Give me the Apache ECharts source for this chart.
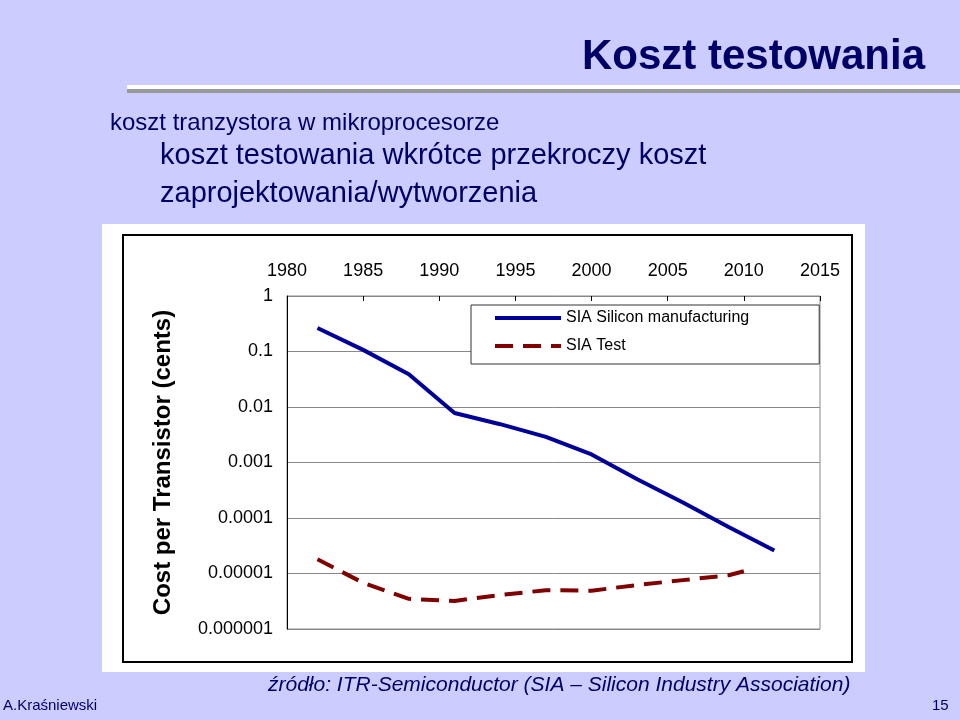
<!DOCTYPE html>
<html>
<head>
<meta charset="utf-8">
<script src="https://cdn.jsdelivr.net/npm/echarts@6/dist/echarts.min.js"></script>
<style>
html,body{margin:0;padding:0;background:#ccccff}
#main{width:960px;height:720px}
</style>
</head>
<body>
<div id="main"></div>
<script>
// dane
var years_mfg = [1982, 1985, 1988, 1991, 1994, 1997, 2000, 2003, 2006, 2009, 2012];
var cost_mfg = [0.265, 0.107, 0.039, 0.0078, 0.0049, 0.0029, 0.0014, 0.0005, 0.00019, 0.000069, 0.000026];
var years_test = [1982, 1985, 1988, 1991, 1994, 1997, 2000, 2003, 2006, 2009, 2010];
var cost_test = [0.000018, 0.0000068, 0.0000035, 0.0000032, 0.0000041, 0.000005, 0.0000049, 0.0000062, 0.0000076, 0.0000093, 0.000011];
var yLabels = {'1': '1', '0.1': '0.1', '0.01': '0.01', '0.001': '0.001', '0.0001': '0.0001', '0.00001': '0.00001', '0.000001': '0.000001'};

function pairs(xs, ys) {
    var out = [];
    for (var i = 0; i < xs.length; i++) out.push([xs[i], ys[i]]);
    return out;
}

var chart = echarts.init(document.getElementById('main'));
var font = 'Liberation Sans, Arial, sans-serif';
chart.setOption({
    backgroundColor: '#ccccff',
    animation: false,
    graphic: [
        {type: 'rect', z: -20, shape: {x: 127, y: 89, width: 833, height: 4}, style: {fill: '#999999'}},
        {type: 'rect', z: -19, shape: {x: 127, y: 85, width: 833, height: 4}, style: {fill: '#ffffff'}},
        {type: 'text', left: 582, top: 36, style: {text: 'Koszt testowania', font: 'bold 42px ' + font, fill: '#000066'}},
        {type: 'text', left: 110, top: 111, style: {text: 'koszt tranzystora w mikroprocesorze', font: '24px ' + font, fill: '#000066'}},
        {type: 'text', left: 160, top: 141, style: {text: 'koszt testowania wkrótce przekroczy koszt', font: '29px ' + font, fill: '#000066'}},
        {type: 'text', left: 160, top: 179, style: {text: 'zaprojektowania/wytworzenia', font: '29px ' + font, fill: '#000066'}},
        {type: 'rect', z: -20, shape: {x: 102, y: 224, width: 763, height: 448}, style: {fill: '#ffffff'}},
        {type: 'rect', z: -19, shape: {x: 123, y: 235, width: 729, height: 427}, style: {fill: '#ffffff', stroke: '#000000', lineWidth: 2}},
        {type: 'text', left: 268, top: 675, style: {text: 'źródło: ITR-Semiconductor (SIA – Silicon Industry Association)', font: 'italic 21px ' + font, fill: '#000066'}},
        {type: 'text', left: 3, top: 698, style: {text: 'A.Kraśniewski', font: '15px ' + font, fill: '#000066'}},
        {type: 'text', left: 932, top: 698, style: {text: '15', font: '15px ' + font, fill: '#000066'}}
    ],
    grid: {left: 287, right: 140, top: 296, bottom: 91, show: true, backgroundColor: '#ffffff', borderColor: '#888888', borderWidth: 1},
    legend: {
        left: 471, top: 305, width: 347, orient: 'vertical', align: 'left', itemGap: 12,
        backgroundColor: '#ffffff', borderColor: '#333333', borderWidth: 1, padding: [5, 70, 10, 22],
        itemWidth: 66, itemHeight: 14,
        itemStyle: {opacity: 0},
        lineStyle: {width: 4},
        textStyle: {fontFamily: font, fontSize: 16, color: '#000000'},
        data: ['SIA Silicon manufacturing', 'SIA Test']
    },
    xAxis: {
        type: 'value', position: 'top', min: 1980, max: 2015, interval: 5,
        axisLine: {show: true, lineStyle: {color: '#888888'}},
        axisTick: {show: true, inside: true, length: 5, lineStyle: {color: '#000'}},
        axisLabel: {fontFamily: font, fontSize: 18, color: '#000', margin: 16,
            formatter: function (v) { return String(v); }},
        splitLine: {show: false}
    },
    yAxis: {
        type: 'log', min: 0.000001, max: 1, logBase: 10,
        name: 'Cost per Transistor (cents)', nameLocation: 'middle', nameGap: 112, nameRotate: 90,
        nameTextStyle: {fontFamily: font, fontWeight: 'bold', fontSize: 24, color: '#000'},
        axisLine: {show: true, lineStyle: {color: '#000'}},
        axisTick: {show: false},
        axisLabel: {fontFamily: font, fontSize: 18, color: '#000', margin: 14,
            formatter: function (v) { return yLabels[String(v)] || ('' + v); }},
        splitLine: {show: true, lineStyle: {color: '#888888'}}
    },
    series: [
        {
            name: 'SIA Silicon manufacturing', type: 'line', symbol: 'none',
            data: pairs(years_mfg, cost_mfg),
            lineStyle: {color: '#000099', width: 4}, itemStyle: {color: '#000099'}
        },
        {
            name: 'SIA Test', type: 'line', symbol: 'none',
            data: pairs(years_test, cost_test),
            lineStyle: {color: '#800000', width: 4, type: [18, 10]}, itemStyle: {color: '#800000'}
        }
    ]
});
</script>
</body>
</html>
